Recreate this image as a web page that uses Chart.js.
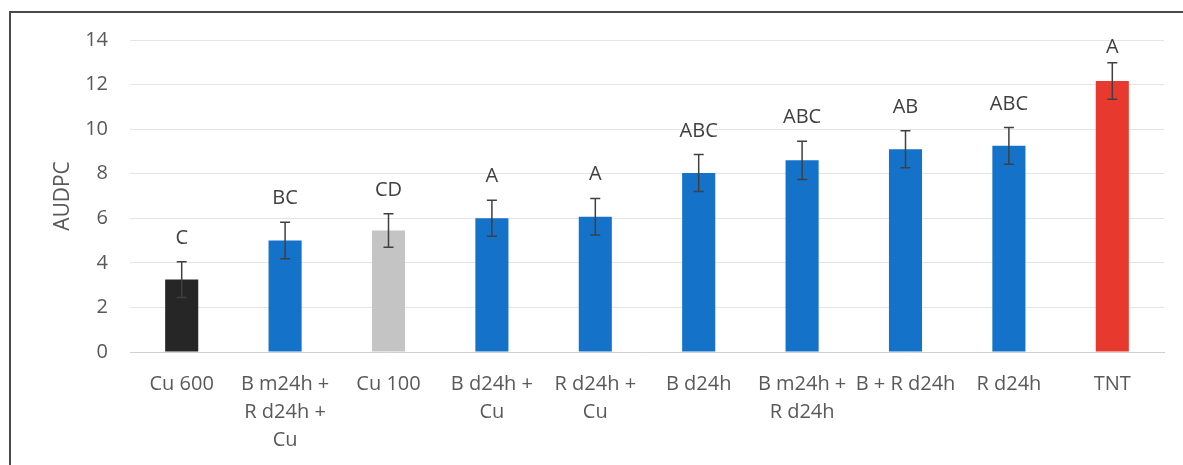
<!DOCTYPE html>
<html>
<head>
<meta charset="utf-8">
<script src="https://cdn.jsdelivr.net/npm/chart.js@4"></script>
<style>
  html, body { margin: 0; padding: 0; background: #fff; }
  #wrap { position: relative; width: 1183px; height: 465px; overflow: hidden; }
  #frame { position: absolute; left: 9px; top: 11px; width: 1300px; height: 600px;
           border-left: 2px solid #4a4a4a; border-top: 2px solid #4a4a4a; }
  canvas { position: absolute; left: 0; top: 0; }
</style>
</head>
<body>
<div id="wrap">
  <div id="frame"></div>
  <canvas id="chart" width="1183" height="465"></canvas>
</div>
<script>
/* ---------- data ---------- */
const categories = [
  "Cu 600",
  ["B m24h +", "R d24h +", "Cu"],
  "Cu 100",
  ["B d24h +", "Cu"],
  ["R d24h +", "Cu"],
  "B d24h",
  ["B m24h +", "R d24h"],
  "B + R d24h",
  "R d24h",
  "TNT"
];
const audpc   = [3.25, 5.0, 5.45, 6.0, 6.07, 8.03, 8.6, 9.1, 9.25, 12.16];
const errs    = [0.8, 0.82, 0.75, 0.81, 0.82, 0.83, 0.86, 0.83, 0.82, 0.82];
const letters = ["C", "BC", "CD", "A", "A", "ABC", "ABC", "AB", "ABC", "A"];
const colors  = ["#262626", "#1472c8", "#c4c4c4", "#1472c8", "#1472c8",
                 "#1472c8", "#1472c8", "#1472c8", "#1472c8", "#e8392f"];
const yTicks  = [0, 2, 4, 6, 8, 10, 12, 14];

const FONT = "'Open Sans', 'DejaVu Sans', sans-serif";
const TXT  = "#595959";

/* ---------- error bars + letters ---------- */
const errorBars = {
  id: "errorBars",
  afterDatasetsDraw(chart) {
    const { ctx, chartArea } = chart;
    const y = chart.scales.y;
    const meta = chart.getDatasetMeta(0);
    ctx.save();
    meta.data.forEach((bar, i) => {
      const x    = bar.x;
      const yTop = y.getPixelForValue(audpc[i] + errs[i]);
      const yBot = y.getPixelForValue(audpc[i] - errs[i]);
      ctx.strokeStyle = "#404040";
      ctx.lineWidth = 1.5;
      ctx.beginPath();
      ctx.moveTo(x, yTop); ctx.lineTo(x, yBot);
      ctx.moveTo(x - 5, yTop); ctx.lineTo(x + 5, yTop);
      ctx.moveTo(x - 5, yBot); ctx.lineTo(x + 5, yBot);
      ctx.stroke();

      ctx.fillStyle = "#404040";
      ctx.font = "20px " + FONT;
      ctx.textAlign = "center";
      ctx.textBaseline = "alphabetic";
      const base = Math.max(yTop - 18, chartArea.top + 13);
      ctx.fillText(letters[i], x, base);
    });
    ctx.restore();
  }
};

/* ---------- chart ---------- */
new Chart(document.getElementById("chart"), {
  type: "bar",
  data: {
    labels: categories,
    datasets: [{
      data: audpc,
      backgroundColor: colors,
      borderWidth: 0,
      barPercentage: 0.32,
      categoryPercentage: 1
    }]
  },
  options: {
    responsive: false,
    animation: false,
    layout: { padding: { left: 50, right: 19, top: 40, bottom: 0 } },
    plugins: { legend: { display: false }, tooltip: { enabled: false } },
    scales: {
      x: {
        grid: { display: false, drawTicks: false },
        border: { display: true, color: "#d0d0d0", width: 1 },
        ticks: {
          color: TXT, autoSkip: false, maxRotation: 0, padding: 18,
          font: { family: FONT, size: 20, lineHeight: 1.4 }
        },
        afterFit: s => { s.height = 113; }
      },
      y: {
        min: 0, max: 14,
        afterBuildTicks: s => { s.ticks = yTicks.map(v => ({ value: v })); },
        grid: { color: "#e4e4e4", lineWidth: 1, drawTicks: false },
        border: { display: false },
        ticks: {
          color: TXT, padding: 22,
          font: { family: FONT, size: 20 }
        },
        title: {
          display: true, text: "AUDPC", color: TXT,
          font: { family: FONT, size: 21 }, padding: 0
        },
        afterFit: s => { s.width = 80; }
      }
    }
  },
  plugins: [errorBars]
});
</script>
</body>
</html>
